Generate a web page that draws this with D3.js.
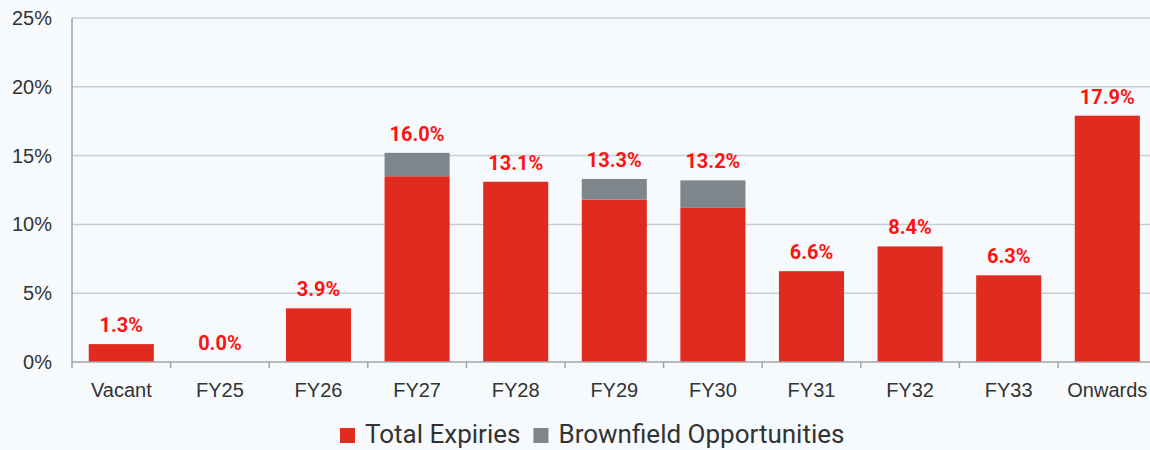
<!DOCTYPE html>
<html>
<head>
<meta charset="utf-8">
<script src="https://cdn.jsdelivr.net/npm/d3@7"></script>
<style>
  html, body { margin: 0; padding: 0; background: #f7fafc; }
  svg { display: block; font-family: Roboto, "Noto Sans", sans-serif; }
</style>
</head>
<body>
<div id="chart"></div>
<script>
const categories = ["Vacant", "FY25", "FY26", "FY27", "FY28", "FY29", "FY30", "FY31", "FY32", "FY33", "Onwards"];
const totalExpiries = [1.3, 0.0, 3.9, 13.5, 13.1, 11.8, 11.2, 6.6, 8.4, 6.3, 17.9];
const brownfield = [0, 0, 0, 1.7, 0, 1.5, 2.0, 0, 0, 0, 0];
const barLabels = [1.3, 0.0, 3.9, 16.0, 13.1, 13.3, 13.2, 6.6, 8.4, 6.3, 17.9];
const yTicks = [0, 5, 10, 15, 20, 25];
const seriesNames = ["Total Expiries", "Brownfield Opportunities"];
const seriesColors = ["#e12b1f", "#7e868d"];

const width = 1150;
const height = 450;
const margin = { top: 18, left: 72, bottom: 88 };
const step = 98.6;

const svg = d3.select("#chart")
  .append("svg")
  .attr("width", width)
  .attr("height", height);

const x = d3.scaleBand()
  .domain(categories)
  .range([margin.left, margin.left + step * categories.length])
  .paddingInner(0.34)
  .paddingOuter(0.17);

const y = d3.scaleLinear()
  .domain([0, 25])
  .range([height - margin.bottom, margin.top]);

// Gridlines + y labels
const yAxis = svg.append("g")
  .attr("transform", `translate(${margin.left},0)`)
  .call(d3.axisLeft(y).tickValues(yTicks).tickFormat((d) => d + "%").tickSize(0).tickPadding(20));
yAxis.select(".domain").remove();
yAxis.selectAll("text")
  .style("font-size", "20px")
  .attr("fill", "#333");

svg.append("g")
  .selectAll("line")
  .data(yTicks.filter((d) => d > 0))
  .join("line")
  .attr("x1", margin.left)
  .attr("x2", width)
  .attr("y1", (d) => y(d))
  .attr("y2", (d) => y(d))
  .attr("stroke", "#c6cdd3")
  .attr("stroke-width", 1.5);

// Stacked bars
const rows = categories.map((c, i) => ({ cat: c, total: totalExpiries[i], brown: brownfield[i], label: barLabels[i] }));
const stack = d3.stack().keys(["total", "brown"])(rows);

svg.append("g")
  .selectAll("g")
  .data(stack)
  .join("g")
  .attr("fill", (d, i) => seriesColors[i])
  .selectAll("rect")
  .data((d) => d)
  .join("rect")
  .attr("x", (d) => x(d.data.cat))
  .attr("width", x.bandwidth())
  .attr("y", (d) => y(d[1]))
  .attr("height", (d) => y(d[0]) - y(d[1]));

// Value labels
svg.append("g")
  .selectAll("text")
  .data(rows)
  .join("text")
  .attr("x", (d) => x(d.cat) + x.bandwidth() / 2)
  .attr("y", (d) => y(d.total + d.brown) - 12)
  .attr("text-anchor", "middle")
  .attr("fill", "#ff1212")
  .style("font-size", "20px")
  .style("font-weight", "bold")
  .text((d) => d.label.toFixed(1) + "%");

// Axis lines
const base = y(0);
svg.append("line")
  .attr("x1", margin.left).attr("x2", margin.left)
  .attr("y1", margin.top).attr("y2", base + 6)
  .attr("stroke", "#a0a4a8").attr("stroke-width", 1.5);
svg.append("line")
  .attr("x1", margin.left).attr("x2", width)
  .attr("y1", base).attr("y2", base)
  .attr("stroke", "#a0a4a8").attr("stroke-width", 1.5);

const boundaries = categories.map((c) => x(c) - x.step() * x.paddingOuter()).slice(1);
svg.append("g")
  .selectAll("line")
  .data(boundaries)
  .join("line")
  .attr("x1", (d) => d).attr("x2", (d) => d)
  .attr("y1", base).attr("y2", base + 6)
  .attr("stroke", "#a0a4a8").attr("stroke-width", 1.5);

const xAxis = svg.append("g")
  .attr("transform", `translate(0,${base})`)
  .call(d3.axisBottom(x).tickSize(0).tickPadding(21));
xAxis.select(".domain").remove();
xAxis.selectAll("text")
  .style("font-size", "20px")
  .attr("fill", "#333");

// Legend
const legend = svg.append("g").attr("transform", "translate(340,443)");
let lx = 0;
seriesNames.forEach((name, i) => {
  const g = legend.append("g").attr("transform", `translate(${lx},0)`);
  g.append("rect")
    .attr("x", 0).attr("y", -15)
    .attr("width", 15).attr("height", 15)
    .attr("fill", seriesColors[i]);
  const t = g.append("text")
    .attr("x", 25).attr("y", 0)
    .attr("fill", "#333")
    .style("font-size", "26px")
    .text(name);
  lx += 25 + t.node().getComputedTextLength() + 13;
});
</script>
</body>
</html>
